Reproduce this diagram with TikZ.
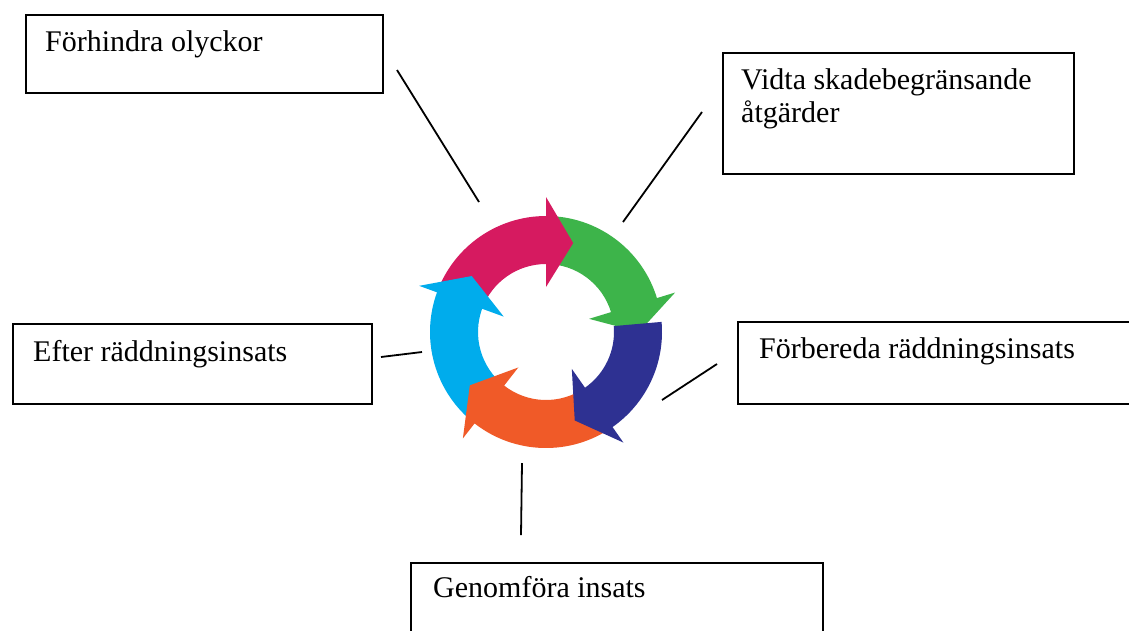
\documentclass[tikz,border=0pt]{standalone}
\usepackage{fontspec}
\setmainfont{Liberation Serif}
\definecolor{cpink}{RGB}{214,26,96}
\definecolor{cgreen}{RGB}{61,180,74}
\definecolor{cnavy}{RGB}{46,49,146}
\definecolor{corange}{RGB}{240,90,40}
\definecolor{csky}{RGB}{0,172,236}
\newcommand{\lblfont}{\fontsize{30}{33}\selectfont}
\newcommand{\ringarrow}[3]{%
  \fill[#1] (#2:116) arc[start angle=#2, end angle=#3, radius=116]
    -- (#3:135) -- ({#3-17}:93) -- (#3:45) -- (#3:68)
    arc[start angle=#3, end angle=#2, radius=68] -- cycle;}
\begin{document}
\begin{tikzpicture}[x=1pt,y=-1pt,
  box/.style={draw=black, line width=1.8pt, inner sep=0pt, anchor=north west},
  lbl/.style={inner sep=0pt, anchor=base west, font=\lblfont, align=left},
  conn/.style={draw=black, line width=1.8pt}]
\useasboundingbox (0,0) rectangle (1129,630);
\clip (0,0) rectangle (1129,630);
\fill[white] (0,0) rectangle (1129,630);

% boxes
\node[box, minimum width=357pt, minimum height=78pt] (boxA) at (25,14) {};
\node[box, minimum width=351pt, minimum height=121pt] (boxB) at (722,52) {};
\node[box, minimum width=359pt, minimum height=80pt] (boxC) at (12,323) {};
\node[box, minimum width=420pt, minimum height=82pt] (boxD) at (737,321) {};
\node[box, minimum width=412pt, minimum height=100pt] (boxE) at (410,562) {};

% labels
\node[lbl] (txtA) at (45,51) {Förhindra olyckor};
\node[lbl] (txtB) at (741,122) {Vidta skadebegränsande\\åtgärder};
\node[lbl] (txtC) at (33,361) {Efter räddningsinsats};
\node[lbl] (txtD) at (759,358) {Förbereda räddningsinsats};
\node[lbl] (txtE) at (433,597) {Genomföra insats};

% ring of arrows
\begin{scope}[shift={(546,332)}, yscale=-1]
  \ringarrow{cgreen}{90}{17}
  \ringarrow{cpink}{160}{90}
  \ringarrow{csky}{-128}{-200}
  \ringarrow{corange}{-55}{-128}
  \ringarrow{cnavy}{5}{-55}
\end{scope}

% connectors
\coordinate (a1) at (397,70);  \coordinate (a2) at (479,202);
\coordinate (b1) at (702,112); \coordinate (b2) at (623,222);
\coordinate (c1) at (381,357); \coordinate (c2) at (422,352);
\coordinate (d1) at (717,364); \coordinate (d2) at (662,400);
\coordinate (e1) at (522,463); \coordinate (e2) at (521,535);
\draw[conn] (a1) -- (a2);
\draw[conn] (b1) -- (b2);
\draw[conn] (c1) -- (c2);
\draw[conn] (d1) -- (d2);
\draw[conn] (e1) -- (e2);
\end{tikzpicture}
\end{document}
